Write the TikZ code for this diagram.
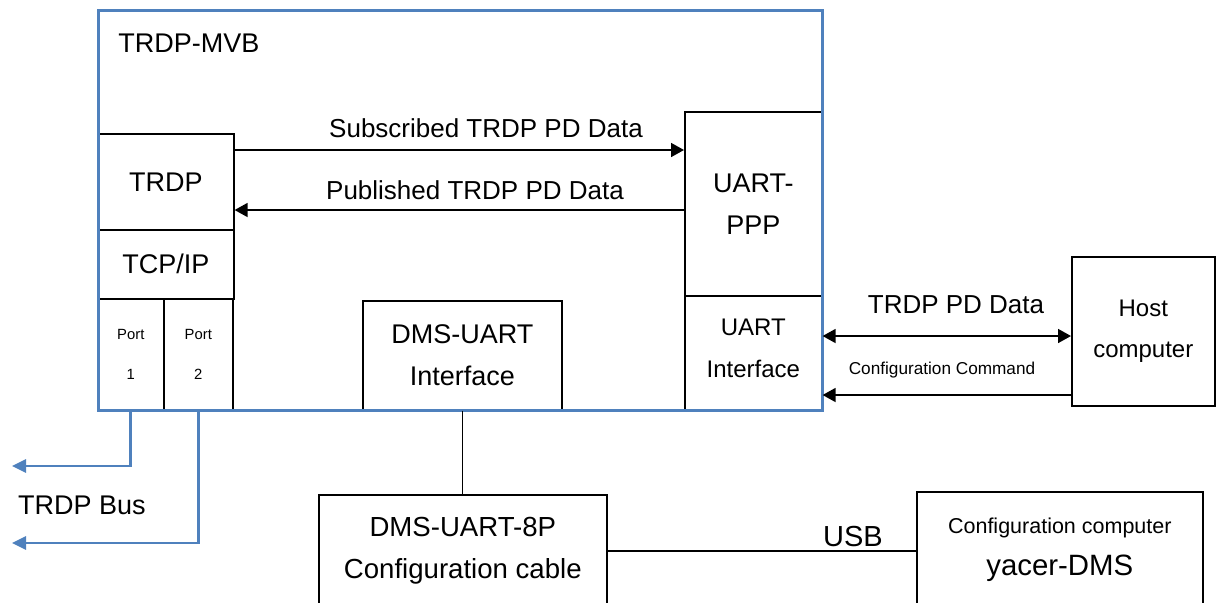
\documentclass[tikz,border=0pt]{standalone}
\usepackage{fontspec}
\setmainfont{Liberation Sans}
\usetikzlibrary{arrows.meta}
\definecolor{mvbblue}{RGB}{79,129,189}
\begin{document}
\begin{tikzpicture}[x=0.5pt,y=-0.5pt,
		box/.style={draw,line width=0.8pt,inner sep=0pt,anchor=north west,align=center,font=\fontsize{13.5}{21}\selectfont},
		arr/.style={line width=0.8pt,-{Triangle[length=6.5pt,width=7pt]}},
		bus/.style={draw=mvbblue,line width=1.4pt,-{Triangle[length=7pt,width=6.5pt]}},
		lbl/.style={anchor=base,inner sep=0pt,font=\fontsize{13}{16}\selectfont}]
	\useasboundingbox (0,0) rectangle (1219,602);
	% inner blocks of the TRDP-MVB unit
	\node[box,minimum width=68pt,minimum height=48pt] (trdp) at (97,133) {TRDP};
	\node[box,minimum width=68pt,minimum height=34.5pt] (tcpip) at (97,229) {TCP/IP};
	\node[box,minimum width=33pt,minimum height=55.5pt,font=\fontsize{7.4}{20}\selectfont] (port1) at (97,298) {Port\\1};
	\node[box,minimum width=34.5pt,minimum height=55.5pt,font=\fontsize{7.4}{20}\selectfont] (port2) at (163,298) {Port\\2};
	\node[box,minimum width=68.5pt,minimum height=92pt] (uartppp) at (684,111) {UART-\\PPP};
	\node[box,minimum width=68.5pt,minimum height=57pt,font=\fontsize{12}{21}\selectfont,text depth=5pt] (uartif) at (684,295) {UART\\Interface};
	\node[box,minimum width=99.5pt,minimum height=54.5pt] (dmsif) at (362,300) {DMS-UART\\Interface};
	\node[draw=mvbblue,line width=1.4pt,inner sep=0pt,anchor=north west,minimum width=362pt,minimum height=200pt] (mvb) at (97,9) {};
	\node[anchor=base west,inner sep=0pt,font=\fontsize{13.5}{16}\selectfont] (mvblbl) at (118,52) {TRDP-MVB};
	% outside
	\node[box,minimum width=71.5pt,minimum height=74.5pt,font=\fontsize{12}{20.5}\selectfont] (host) at (1071,256) {Host\\computer};
	\node[box,minimum width=144pt,minimum height=56pt,font=\fontsize{13.8}{21}\selectfont] (cable) at (318,494) {DMS-UART-8P\\Configuration cable};
	\node[box,minimum width=143pt,minimum height=57.5pt,font=\fontsize{14.7}{21}\selectfont] (cfgpc) at (916,491) {{\fontsize{10.75}{13}\selectfont Configuration computer}\\yacer-DMS};
	% connections
	\draw[arr] (trdp.east |- 0,150) -- (uartppp.west |- 0,150);
	\node[lbl] (sublbl) at (486,137) {Subscribed TRDP PD Data};
	\draw[arr] (uartppp.west |- 0,210) -- (trdp.east |- 0,210);
	\node[lbl] (publbl) at (475,199) {Published TRDP PD Data};
	\draw[arr,{Triangle[length=6.5pt,width=7pt]}-{Triangle[length=6.5pt,width=7pt]}] (uartif.east |- 0,336) -- (host.west |- 0,336);
	\node[lbl] (pdlbl) at (956,313) {TRDP PD Data};
	\draw[arr] (host.west |- 0,395) -- (uartif.east |- 0,395);
	\node[lbl,font=\fontsize{8.6}{10}\selectfont] (cmdlbl) at (942,374) {Configuration Command};
	\draw[line width=0.8pt] (dmsif.south) -- (dmsif.south |- cable.north);
	\draw[line width=0.8pt] (cable.east) -- (cable.east -| cfgpc.west);
	\node[lbl,font=\fontsize{14.5}{16}\selectfont] (usblbl) at (853,546) {USB};
	\coordinate (bus1) at (12,466);
	\coordinate (bus2) at (12,543);
	\draw[bus] (port1.south) |- (bus1);
	\draw[bus] (port2.south) |- (bus2);
	\node[lbl,font=\fontsize{13.5}{16}\selectfont] (buslbl) at (82,514) {TRDP Bus};
\end{tikzpicture}
\end{document}
